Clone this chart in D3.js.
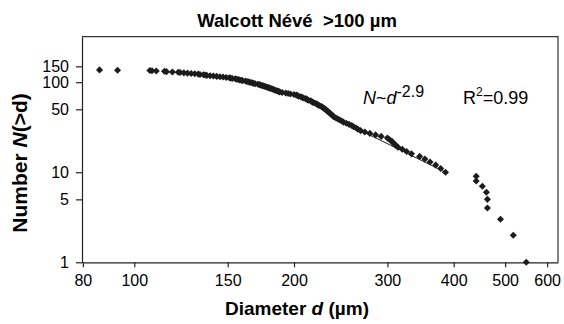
<!DOCTYPE html>
<html>
<head>
<meta charset="utf-8">
<script src="https://cdn.jsdelivr.net/npm/d3@7"></script>
<style>
  body { margin: 0; background: #fff; }
  svg { display: block; font-family: "Liberation Sans", Arial, sans-serif; }
</style>
</head>
<body>
<div id="chart"></div>
<script>
// --- Data (cumulative count N(>d) vs diameter d) ---
const diameters = [
  86, 93, 107, 108, 110, 114, 115, 118, 121, 122, 124, 126, 128, 130, 132, 133, 135, 136, 137, 139,
  141, 143, 145, 147, 149, 151, 152, 153, 155, 156, 157, 158, 159, 160, 162, 163, 164, 165, 166, 167,
  168, 169, 171, 172, 173, 174, 175, 176, 177, 178, 179, 180, 181, 182, 183, 184, 185, 186, 187, 188,
  190, 193, 195, 197, 200, 202, 203, 204, 206, 207, 208, 210, 211, 212, 213, 215, 216, 217, 218, 220,
  221, 222, 223, 225, 226, 227, 228, 229, 230, 231, 232, 233, 234, 235, 236, 237, 238, 240, 242, 244,
  246, 248, 251, 254, 257, 259, 262, 264, 267, 272, 278, 285, 292, 300, 303, 306, 308, 311, 314, 320,
  326, 333, 345, 353, 361, 370, 378, 386, 441, 441, 453, 461, 463, 463, 490, 518, 548
];
const counts = [
  137, 136, 135, 134, 133, 132, 131, 130, 129, 128, 127, 126, 125, 124, 123, 122, 121, 120, 119, 118,
  117, 116, 115, 114, 113, 112, 111, 110, 109, 108, 107, 106, 105, 104, 103, 102, 101, 100, 99, 98,
  97, 96, 95, 94, 93, 92, 91, 90, 89, 88, 87, 86, 85, 84, 83, 82, 81, 80, 79, 78,
  77, 76, 75, 74, 73, 72, 71, 70, 69, 68, 67, 66, 65, 64, 63, 62, 61, 60, 59, 58,
  57, 56, 55, 54, 53, 52, 51, 50, 49, 48, 47, 46, 45, 44, 43, 42, 41, 40, 39, 38,
  37, 36, 35, 34, 33, 32, 31, 30, 29, 28, 27, 26, 25, 24, 23, 22, 21, 20, 19, 18,
  17, 16, 15, 14, 13, 12, 11, 10, 9, 8, 7, 6, 5, 4, 3, 2, 1
];
// power-law fit segment (N ~ d^-2.9), end points
const fitD = [250, 390];
const fitN = [35.2, 9.7];

const xTicks = [80, 100, 150, 200, 300, 400, 500, 600];
const yTicks = [1, 5, 10, 50, 100, 150];

// --- Layout ---
const W = 564, H = 324;
const plot = { left: 82, right: 558, top: 36.7, bottom: 262.3 };

const svg = d3.select("#chart").append("svg")
  .attr("width", W)
  .attr("height", H);

const x = d3.scaleLog().domain([79.7, 629]).range([plot.left, plot.right]);
const y = d3.scaleLog().domain([1, 320]).range([plot.bottom, plot.top]);

// frame (top + right)
svg.append("path")
  .attr("d", `M${plot.left},${plot.top}H${plot.right}V${plot.bottom}`)
  .attr("fill", "none")
  .attr("stroke", "#333")
  .attr("stroke-width", 1.2);

// axes
const xAxis = svg.append("g")
  .attr("transform", `translate(0,${plot.bottom})`)
  .call(d3.axisBottom(x).tickValues(xTicks).tickFormat(d3.format("d"))
    .tickSize(5).tickSizeOuter(0).tickPadding(7));

const yAxis = svg.append("g")
  .attr("transform", `translate(${plot.left},0)`)
  .call(d3.axisLeft(y).tickValues(yTicks).tickFormat(d3.format("d"))
    .tickSize(6).tickSizeOuter(0).tickPadding(7));

[xAxis, yAxis].forEach(g => {
  g.select(".domain").attr("stroke", "#222").attr("stroke-width", 1.2);
  g.selectAll(".tick line").attr("stroke", "#222").attr("stroke-width", 1.2);
  g.selectAll("text")
    .attr("fill", "#000")
    .style("font-family", "'Liberation Sans', Arial, sans-serif")
    .style("font-size", "16px");
});

// fit line
svg.append("path")
  .datum(fitD.map((d, i) => [d, fitN[i]]))
  .attr("d", d3.line().x(d => x(d[0])).y(d => y(d[1])))
  .attr("fill", "none")
  .attr("stroke", "#222")
  .attr("stroke-width", 1);

// markers (diamonds)
const diamond = d3.symbol().type(d3.symbolSquare).size(25);
svg.append("g")
  .selectAll("path")
  .data(diameters.map((d, i) => ({ d, n: counts[i] })))
  .join("path")
  .attr("d", diamond)
  .attr("transform", p => `translate(${x(p.d)},${y(p.n)}) rotate(45)`)
  .attr("fill", "#1c1c1c");

// title
svg.append("text")
  .attr("x", 297)
  .attr("y", 27)
  .attr("text-anchor", "middle")
  .style("white-space", "pre")
  .style("font-size", "18.5px")
  .style("font-weight", "bold")
  .text("Walcott Névé  >100 µm");

// x axis label
const xl = svg.append("text")
  .attr("x", 297)
  .attr("y", 315)
  .attr("text-anchor", "middle")
  .style("font-size", "19px")
  .style("font-weight", "bold");
xl.append("tspan").text("Diameter ");
xl.append("tspan").style("font-style", "italic").text("d");
xl.append("tspan").text(" (µm)");

// y axis label
const yl = svg.append("text")
  .attr("transform", "translate(27,163) rotate(-90)")
  .attr("text-anchor", "middle")
  .style("font-size", "21px")
  .style("font-weight", "bold");
yl.append("tspan").text("Number ");
yl.append("tspan").style("font-style", "italic").text("N");
yl.append("tspan").text("(>d)");

// annotations
const eq = svg.append("text")
  .attr("x", 363)
  .attr("y", 104)
  .style("font-size", "18px");
eq.append("tspan").style("font-style", "italic").text("N");
eq.append("tspan").text("~");
eq.append("tspan").style("font-style", "italic").text("d");
eq.append("tspan").attr("dy", -7).style("font-size", "16px").text("-2.9");

const r2 = svg.append("text")
  .attr("x", 463)
  .attr("y", 104)
  .style("font-size", "18px");
r2.append("tspan").text("R");
r2.append("tspan").attr("dy", -8).style("font-size", "12px").text("2");
r2.append("tspan").attr("dy", 8).text("=0.99");
</script>
</body>
</html>
